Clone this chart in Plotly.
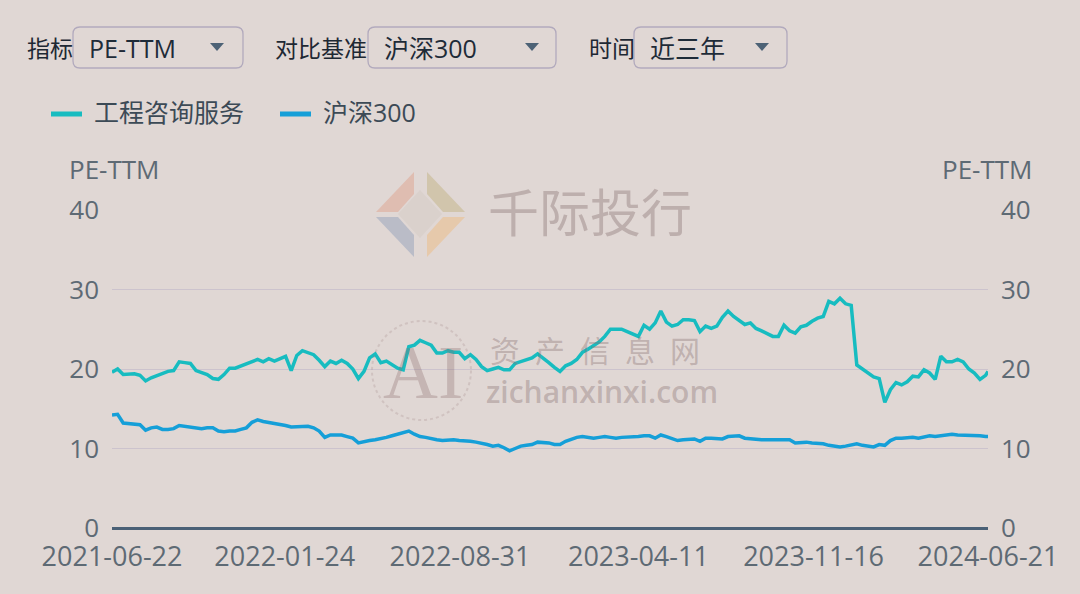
import pandas as pd
import plotly.graph_objects as go

# ---------------- data ----------------
start_date = "2021-06-22"
end_date = "2024-06-21"
dates = list(pd.date_range(start_date, periods=157, freq="7D").strftime("%Y-%m-%d")) + [end_date]

industry_name = "工程咨询服务"
benchmark_name = "沪深300"

industry_pe = [
    19.6, 20.0, 19.3, 19.3, 19.4, 19.2, 18.5, 18.9, 19.2, 19.5,
    19.7, 19.8, 20.9, 20.8, 20.7, 19.8, 19.6, 19.3, 18.8, 18.7,
    19.3, 20.1, 20.1, 20.4, 20.6, 20.9, 21.2, 20.9, 21.3, 21.0,
    21.3, 21.6, 19.8, 21.7, 22.3, 22.1, 21.8, 21.1, 20.3, 21.0,
    20.7, 21.1, 20.7, 20.0, 18.8, 19.7, 21.4, 21.9, 20.8, 21.0,
    20.5, 20.1, 19.9, 22.8, 23.0, 23.6, 23.3, 23.0, 22.0, 22.0,
    22.3, 22.1, 22.1, 21.3, 21.8, 21.2, 20.3, 19.8, 20.0, 20.2,
    19.9, 19.9, 20.7, 20.9, 21.2, 21.4, 21.9, 21.4, 20.8, 20.2,
    19.7, 20.4, 20.7, 21.2, 22.1, 22.5, 23.0, 23.4, 24.1, 25.0,
    25.0, 25.0, 24.7, 24.4, 24.1, 25.5, 25.0, 25.8, 27.3, 25.9,
    25.4, 25.6, 26.2, 26.2, 26.1, 24.7, 25.4, 25.1, 25.4, 26.5,
    27.3, 26.6, 26.1, 25.6, 25.8, 25.1, 24.8, 24.4, 24.1, 24.1,
    25.5, 24.8, 24.5, 25.3, 25.5, 26.0, 26.4, 26.6, 28.5, 28.2,
    28.9, 28.2, 28.0, 20.5, 20.0, 19.5, 19.0, 18.8, 15.8, 17.4,
    18.3, 18.0, 18.4, 19.1, 19.0, 19.9, 19.5, 18.7, 21.6, 20.9,
    20.9, 21.2, 20.9, 20.0, 19.5, 18.7, 19.2, 19.7,
]

benchmark_pe = [
    14.2, 14.3, 13.2, 13.1, 13.1, 13.0, 12.3, 12.6, 12.7, 12.4,
    12.4, 12.5, 12.9, 12.8, 12.6, 12.6, 12.5, 12.6, 12.6, 12.2,
    12.1, 12.2, 12.2, 12.4, 12.6, 13.3, 13.6, 13.4, 13.3, 13.2,
    13.1, 12.9, 12.7, 12.7, 12.7, 12.8, 12.6, 12.2, 11.4, 11.7,
    11.7, 11.7, 11.5, 11.3, 10.7, 10.9, 11.0, 11.1, 11.2, 11.4,
    11.6, 11.8, 12.0, 12.2, 11.8, 11.5, 11.4, 11.2, 11.1, 11.0,
    11.1, 11.1, 11.0, 11.0, 10.9, 10.8, 10.7, 10.5, 10.3, 10.4,
    10.1, 9.7, 10.0, 10.3, 10.4, 10.5, 10.8, 10.8, 10.7, 10.5,
    10.5, 10.9, 11.2, 11.4, 11.5, 11.4, 11.3, 11.4, 11.5, 11.4,
    11.3, 11.4, 11.4, 11.5, 11.5, 11.6, 11.6, 11.3, 11.7, 11.5,
    11.2, 11.0, 11.1, 11.1, 11.2, 10.9, 11.3, 11.3, 11.3, 11.2,
    11.5, 11.6, 11.6, 11.3, 11.2, 11.1, 11.1, 11.1, 11.1, 11.1,
    11.2, 11.1, 10.7, 10.8, 10.8, 10.7, 10.7, 10.6, 10.4, 10.3,
    10.2, 10.3, 10.4, 10.6, 10.4, 10.3, 10.2, 10.5, 10.4, 11.0,
    11.3, 11.3, 11.4, 11.4, 11.3, 11.5, 11.6, 11.5, 11.6, 11.7,
    11.8, 11.7, 11.7, 11.7, 11.6, 11.6, 11.5, 11.5,
]

x_tick_labels = ["2021-06-22", "2022-01-24", "2022-08-31", "2023-04-11", "2023-11-16", "2024-06-21"]
y_ticks = [0, 10, 20, 30, 40]
axis_title = "PE-TTM"
dropdowns = [("指标", "PE-TTM"), ("对比基准", "沪深300"), ("时间", "近三年")]

# ---------------- styling / layout ----------------
W, H = 1080, 594
PL, PR, PT, PB = 112, 988, 210, 528
BG = "#E0D7D4"
TEAL = "#17BCC0"
BLUE = "#159FD8"
TICK_COL = "#5E6A74"
FONT = "Open Sans, Noto Sans CJK SC, sans-serif"


def px(x):
    return (x - PL) / (PR - PL)


def py(y):
    return (PB - y) / (PB - PT)


def rrect_path(x0, y0, x1, y1, r):
    pts = [
        ("M", [(x0 + r, y0)]), ("L", [(x1 - r, y0)]), ("Q", [(x1, y0), (x1, y0 + r)]),
        ("L", [(x1, y1 - r)]), ("Q", [(x1, y1), (x1 - r, y1)]), ("L", [(x0 + r, y1)]),
        ("Q", [(x0, y1), (x0, y1 - r)]), ("L", [(x0, y0 + r)]), ("Q", [(x0, y0), (x0 + r, y0)]),
    ]
    s = ""
    for cmd, ps in pts:
        s += cmd + " ".join(f"{px(a):.5f},{py(b):.5f}" for a, b in ps) + " "
    return s + "Z"


def poly_path(points):
    return "M" + " L".join(f"{px(a):.5f},{py(b):.5f}" for a, b in points) + " Z"


fig = go.Figure()
fig.add_trace(go.Scatter(
    x=dates, y=industry_pe, name=industry_name, mode="lines",
    line=dict(color=TEAL, width=3.5), yaxis="y", showlegend=False,
))
fig.add_trace(go.Scatter(
    x=dates, y=benchmark_pe, name=benchmark_name, mode="lines",
    line=dict(color=BLUE, width=3.5), yaxis="y2", showlegend=False,
))

shapes = []
annotations = []

# dropdown controls
boxes = [(25, 73, 243, 87, 217), (273, 368, 556, 382, 532), (587, 634, 787, 648, 762)]
for (label, value), (lx, bx0, bx1, tx, ax) in zip(dropdowns, boxes):
    annotations.append(dict(x=px(lx), y=py(48), xref="paper", yref="paper", text=label,
                            showarrow=False, xanchor="left", yanchor="middle",
                            font=dict(size=23, color="#1E2833")))
    shapes.append(dict(type="path", xref="paper", yref="paper",
                       path=rrect_path(bx0, 27, bx1, 68, 7),
                       line=dict(color="#B2AABD", width=1.3), fillcolor="rgba(0,0,0,0)"))
    annotations.append(dict(x=px(tx), y=py(48), xref="paper", yref="paper", text=value,
                            showarrow=False, xanchor="left", yanchor="middle",
                            font=dict(size=25, color="#1E2B38")))
    shapes.append(dict(type="path", xref="paper", yref="paper",
                       path=poly_path([(ax - 7, 43), (ax + 7, 43), (ax, 51)]),
                       line=dict(width=0), fillcolor="#4D6276"))

# legend (drawn by hand to match the reference spacing)
legend_items = [(industry_name, TEAL, 51, 92), (benchmark_name, BLUE, 280, 321)]
for name, col, lx, tx in legend_items:
    shapes.append(dict(type="line", xref="paper", yref="paper",
                       x0=px(lx), x1=px(lx + 31), y0=py(114), y1=py(114),
                       line=dict(color=col, width=5)))
    annotations.append(dict(x=px(tx), y=py(112), xref="paper", yref="paper", text=name,
                            showarrow=False, xanchor="left", yanchor="middle",
                            font=dict(size=25, color="#3C4A56")))

# axis titles
annotations.append(dict(x=px(67), y=py(169), xref="paper", yref="paper", text=axis_title,
                        showarrow=False, xanchor="left", yanchor="middle",
                        font=dict(size=26, color=TICK_COL)))
annotations.append(dict(x=px(1034), y=py(169), xref="paper", yref="paper", text=axis_title,
                        showarrow=False, xanchor="right", yanchor="middle",
                        font=dict(size=26, color=TICK_COL)))

# watermark: 千际投行 logo
logo = [
    ([(376, 212), (414, 172), (414, 194), (398, 212)], "rgba(222,150,125,0.40)"),
    ([(465, 212), (427, 172), (427, 194), (443, 212)], "rgba(190,175,125,0.45)"),
    ([(376, 217), (414, 257), (414, 235), (398, 217)], "rgba(140,155,185,0.45)"),
    ([(465, 217), (427, 257), (427, 235), (443, 217)], "rgba(240,180,110,0.40)"),
    ([(420, 190), (442, 214), (420, 238), (398, 214)], "rgba(200,190,180,0.25)"),
]
for pts, col in logo:
    shapes.append(dict(type="path", xref="paper", yref="paper", path=poly_path(pts),
                       line=dict(width=0), fillcolor=col))
annotations.append(dict(x=px(486), y=py(210), xref="paper", yref="paper", text="千际投行",
                        showarrow=False, xanchor="left", yanchor="middle",
                        font=dict(size=51, color="rgba(140,118,118,0.42)",
                                  family="Noto Sans CJK SC")))
# watermark: 资产信息网
shapes.append(dict(type="circle", xref="paper", yref="paper",
                   x0=px(372), x1=px(471), y0=py(420), y1=py(321),
                   line=dict(color="rgba(150,125,125,0.22)", width=2, dash="dot")))
annotations.append(dict(x=px(423), y=py(372), xref="paper", yref="paper", text="AI",
                        showarrow=False, xanchor="center", yanchor="middle",
                        font=dict(size=76, color="rgba(140,110,110,0.32)",
                                  family="Liberation Serif")))
annotations.append(dict(x=px(488), y=py(349), xref="paper", yref="paper",
                        text="资\u2002产\u2002信\u2002息\u2002网",
                        showarrow=False, xanchor="left", yanchor="middle",
                        font=dict(size=30, color="rgba(140,118,118,0.40)",
                                  family="Noto Sans CJK SC")))
annotations.append(dict(x=px(484), y=py(391), xref="paper", yref="paper", text="zichanxinxi.com",
                        showarrow=False, xanchor="left", yanchor="middle",
                        font=dict(size=30, color="rgba(140,118,118,0.40)",
                                  family="Open Sans", weight=600)))

axis_common = dict(range=[0, 40], tickvals=y_ticks, ticks="", showline=False,
                   tickfont=dict(size=26, color=TICK_COL), fixedrange=True,
                   ticklabelstandoff=12)

fig.update_layout(
    width=W, height=H,
    margin=dict(l=PL, r=W - PR, t=PT, b=H - PB, pad=0),
    paper_bgcolor=BG, plot_bgcolor=BG,
    font=dict(family=FONT, size=25, color=TICK_COL),
    showlegend=False,
    xaxis=dict(type="date", range=[start_date, end_date], tickvals=x_tick_labels,
               ticktext=x_tick_labels, showgrid=False, showline=False, ticks="",
               zeroline=False, tickfont=dict(size=27, color=TICK_COL), fixedrange=True,
               ticklabelstandoff=10),
    yaxis=dict(**axis_common, side="left", showgrid=True, gridcolor="#CCC3CD", gridwidth=1,
               zeroline=True, zerolinecolor="#4A6076", zerolinewidth=3),
    yaxis2=dict(**axis_common, side="right", overlaying="y", showgrid=False, zeroline=False),
    shapes=shapes,
    annotations=annotations,
    hovermode="x unified",
)

fig.write_html("out.html", config={"displayModeBar": False},
               post_script="document.body.style.margin='0';")
